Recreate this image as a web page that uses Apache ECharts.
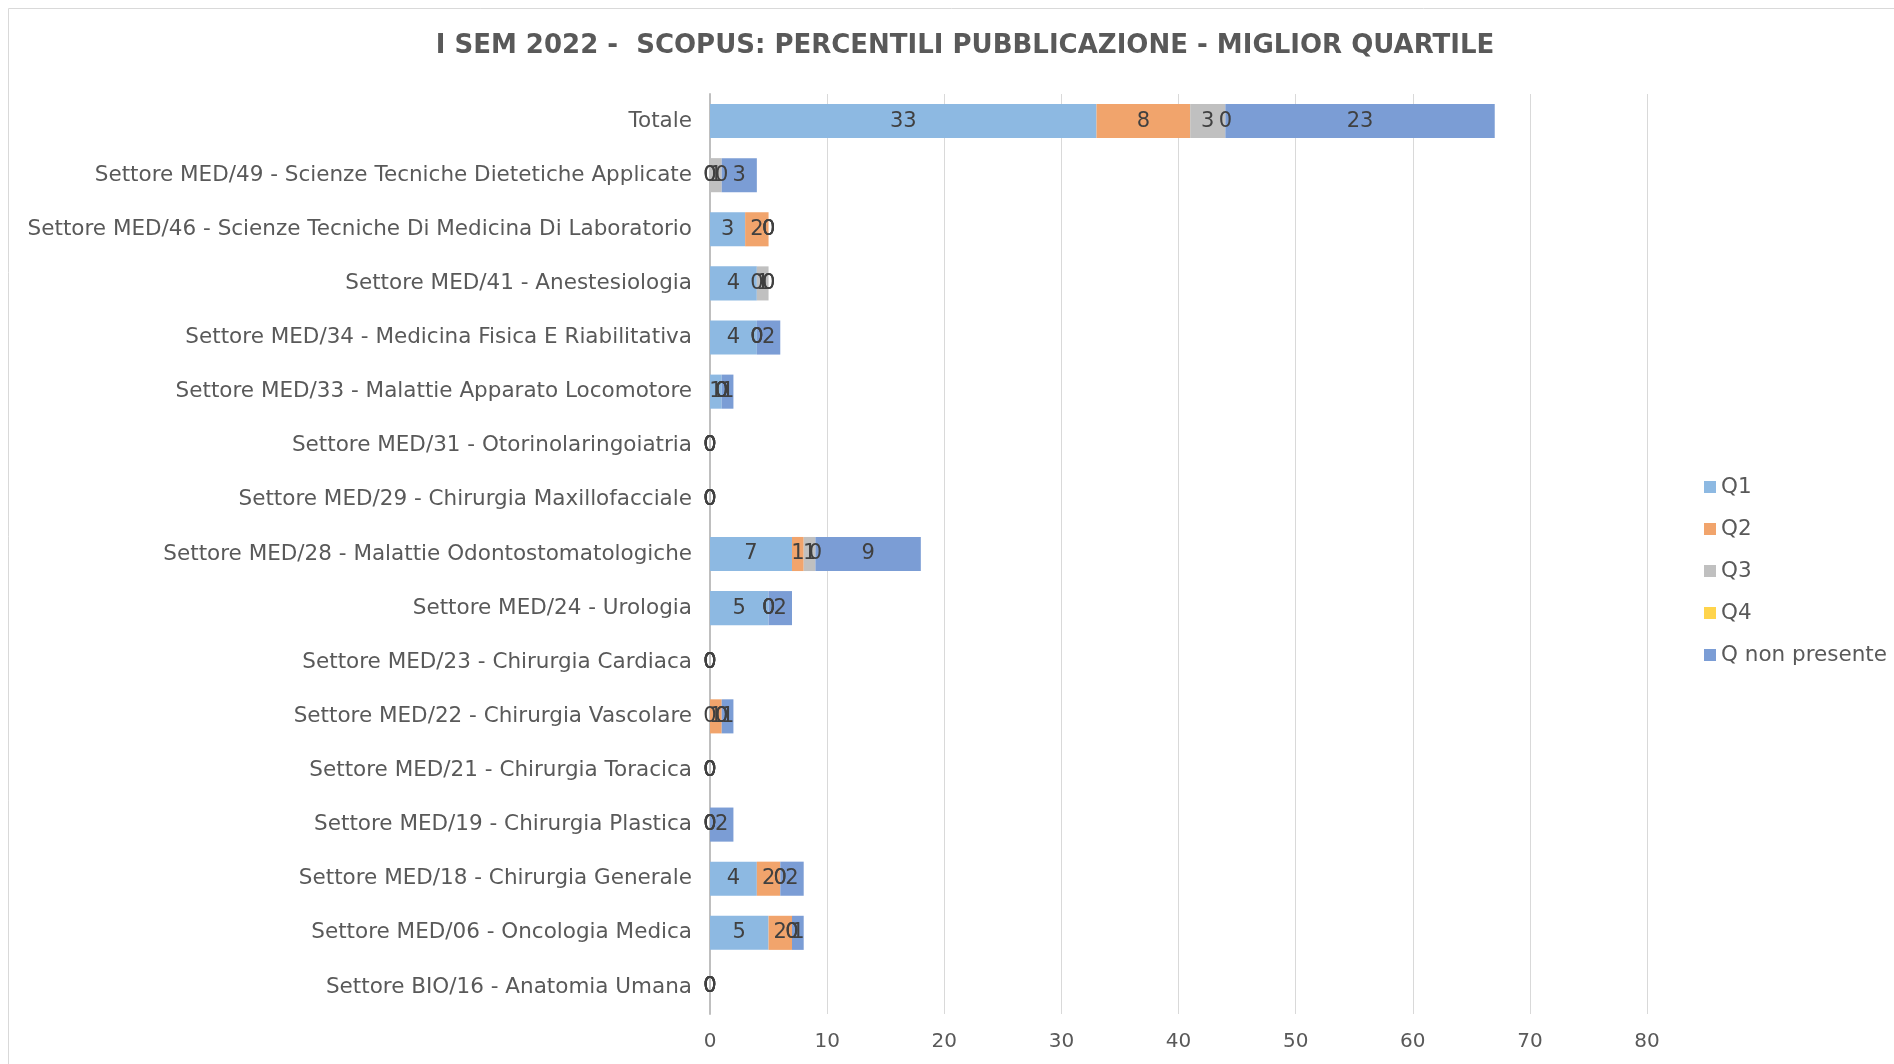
<!DOCTYPE html>
<html><head><meta charset="utf-8">
<script src="https://cdn.jsdelivr.net/npm/echarts@6/dist/echarts.min.js"></script>
<style>html,body{margin:0;padding:0;background:#fff}#c{width:1894px;height:1064px}</style>
</head><body><div id="c"></div>
<script>
const titleText = 'I SEM 2022 -  SCOPUS: PERCENTILI PUBBLICAZIONE - MIGLIOR QUARTILE';
const categories = [
  'Totale',
  'Settore MED/49 - Scienze Tecniche Dietetiche Applicate',
  'Settore MED/46 - Scienze Tecniche Di Medicina Di Laboratorio',
  'Settore MED/41 - Anestesiologia',
  'Settore MED/34 - Medicina Fisica E Riabilitativa',
  'Settore MED/33 - Malattie Apparato Locomotore',
  'Settore MED/31 - Otorinolaringoiatria',
  'Settore MED/29 - Chirurgia Maxillofacciale',
  'Settore MED/28 - Malattie Odontostomatologiche',
  'Settore MED/24 - Urologia',
  'Settore MED/23 - Chirurgia Cardiaca',
  'Settore MED/22 - Chirurgia Vascolare',
  'Settore MED/21 - Chirurgia Toracica',
  'Settore MED/19 - Chirurgia Plastica',
  'Settore MED/18 - Chirurgia Generale',
  'Settore MED/06 - Oncologia Medica',
  'Settore BIO/16 - Anatomia Umana'
];
const seriesNames = ['Q1', 'Q2', 'Q3', 'Q4', 'Q non presente'];
const q1   = [33, 0, 3, 4, 4, 1, 0, 0, 7, 5, 0, 0, 0, 0, 4, 5, 0];
const q2   = [ 8, 0, 2, 0, 0, 0, 0, 0, 1, 0, 0, 1, 0, 0, 2, 2, 0];
const q3   = [ 3, 1, 0, 1, 0, 0, 0, 0, 1, 0, 0, 0, 0, 0, 0, 0, 0];
const q4   = [ 0, 0, 0, 0, 0, 0, 0, 0, 0, 0, 0, 0, 0, 0, 0, 0, 0];
const qnp  = [23, 3, 0, 0, 2, 1, 0, 0, 9, 2, 0, 1, 0, 2, 2, 1, 0];
const xTicks = [0, 10, 20, 30, 40, 50, 60, 70, 80];

const colors = ['#8DB9E2', '#F1A46C', '#C0C0C0', '#FFD44C', '#7B9DD5'];
const FONT = 'DejaVu Sans';
const values = [q1, q2, q3, q4, qnp];

const chart = echarts.init(document.getElementById('c'));
chart.setOption({
  animation: false,
  color: colors,
  textStyle: { fontFamily: FONT },
  title: {
    text: titleText, left: 960, top: 28, textAlign: 'center',
    textStyle: { fontFamily: FONT, fontWeight: 'bold', fontSize: 26, color: '#595959' }
  },
  graphic: [{
    type: 'rect', shape: { x: 8.5, y: 8.5, width: 1950, height: 1150 },
    style: { fill: 'none', stroke: '#D9D9D9', lineWidth: 1 }, silent: true, z: -10
  }],
  legend: {
    orient: 'vertical', left: 1699, top: 471, itemWidth: 12, itemHeight: 12, itemGap: 20,
    icon: 'rect', data: seriesNames,
    textStyle: { fontFamily: FONT, fontSize: 21.5, color: '#595959' }
  },
  grid: { left: 710, right: 247, top: 94, bottom: 50, containLabel: false },
  xAxis: {
    type: 'value', min: xTicks[0], max: xTicks[xTicks.length - 1], interval: 10,
    axisLine: { show: false }, axisTick: { show: false },
    splitLine: { lineStyle: { color: '#D9D9D9', width: 1 } },
    axisLabel: { fontFamily: FONT, fontSize: 20, color: '#595959', margin: 18 }
  },
  yAxis: {
    type: 'category', inverse: true, data: categories,
    axisLine: { lineStyle: { color: '#BFBFBF', width: 2 } }, axisTick: { show: false },
    axisLabel: { fontFamily: FONT, fontSize: 21.5, color: '#595959', margin: 18 }
  },
  series: seriesNames.map((n, i) => ({
    name: n, type: 'bar', stack: 'tot', data: values[i], barWidth: '63%',
    label: { show: true, position: 'inside', formatter: '{c}', fontFamily: FONT, fontSize: 21, color: '#404040' }
  }))
});
</script></body></html>
